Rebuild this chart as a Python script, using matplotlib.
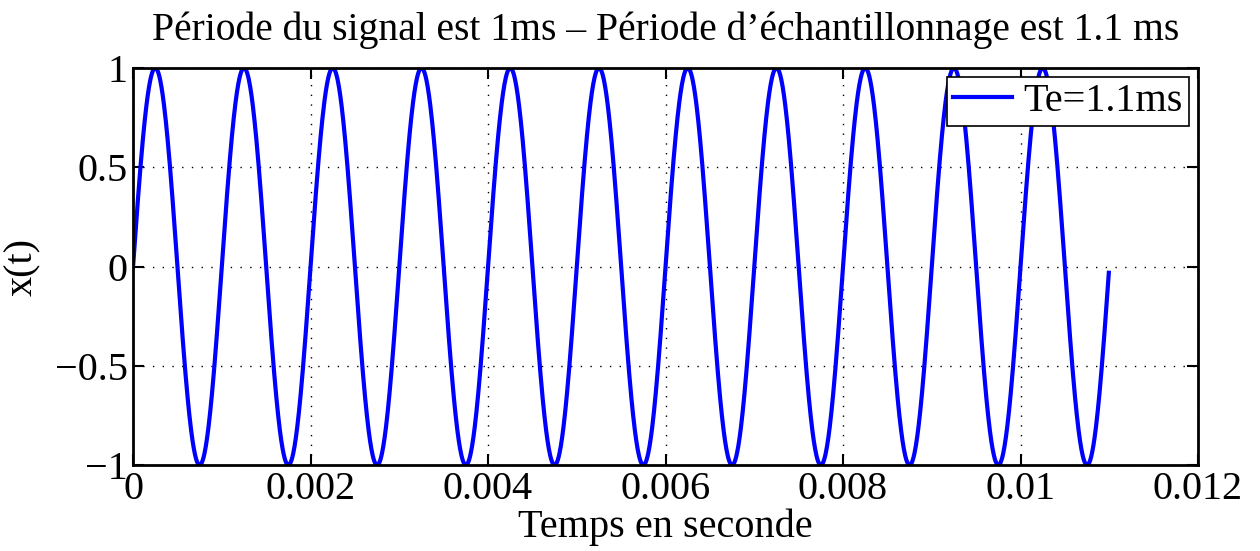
import numpy as np
import matplotlib.pyplot as plt

# signal: period 1 ms, amplitude 1, shown up to ~11 ms
period = 0.001
amplitude = 1.0
t_end = 0.011
step = 5e-6

xticks = [0, 0.002, 0.004, 0.006, 0.008, 0.01, 0.012]
xtick_labels = ['0', '0.002', '0.004', '0.006', '0.008', '0.01', '0.012']
yticks = [-1, -0.5, 0, 0.5, 1]
ytick_labels = ['\u22121', '\u22120.5', '0', '0.5', '1']

t = np.arange(0, t_end, step)
x = amplitude * np.sin(2 * np.pi * t / period)

plt.rcParams['font.family'] = ['Liberation Serif', 'DejaVu Serif']

fig = plt.figure(figsize=(12.6, 5.51), dpi=100)
ax = fig.add_axes([0.1056, 0.156, 0.8452, 0.7206])

ax.plot(t, x, color='#0000ff', linewidth=3, label='Te=1.1ms')

ax.set_xlim(0, 0.012)
ax.set_ylim(-1, 1)
ax.set_xticks(xticks)
ax.set_xticklabels(xtick_labels)
ax.set_yticks(yticks)
ax.set_yticklabels(ytick_labels)
ax.tick_params(axis='both', direction='in', length=8, width=1.5,
               labelsize=29, top=True, right=True, pad=4)
ax.tick_params(axis='x', pad=4)
for s in ax.spines.values():
    s.set_linewidth(2)
ax.grid(True, color='black', linestyle=(0, (1, 6)), linewidth=1)

ax.set_title('Période du signal est 1ms \u2013 Période d\u2019échantillonnage est 1.1 ms',
             fontsize=28.5, pad=20)
ax.set_xlabel('Temps en seconde', fontsize=29, labelpad=1)
ax.set_ylabel('x(t)', fontsize=29, labelpad=10)

leg = ax.legend(loc='upper right', fontsize=29, fancybox=False, framealpha=1,
                edgecolor='black', borderaxespad=0.22, handlelength=1.45,
                handletextpad=0.3, borderpad=0.15)
leg.get_frame().set_linewidth(1.2)

fig.savefig('out.png', dpi=100)
